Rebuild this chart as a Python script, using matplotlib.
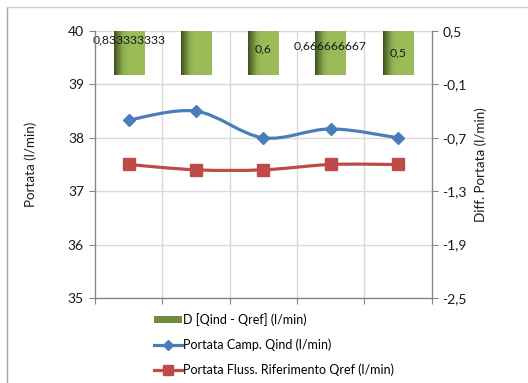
import numpy as np
import matplotlib
matplotlib.use("Agg")
import matplotlib.pyplot as plt
from matplotlib.path import Path
from matplotlib.patches import PathPatch, Patch
from matplotlib.lines import Line2D
from matplotlib.colors import LinearSegmentedColormap

plt.rcParams['font.family'] = ['Lato', 'DejaVu Sans']

# Data
q_ind = [38.333333333, 38.5, 38.0, 38.166666667, 38.0]      # Portata Camp. Qind
q_ref = [37.5, 37.4, 37.4, 37.5, 37.5]                      # Portata Fluss. Riferimento Qref
diff = [0.833333333, 1.1, 0.6, 0.666666667, 0.5]            # D [Qind - Qref]
left_ticks = [35, 36, 37, 38, 39, 40]
right_ticks = [-2.5, -1.9, -1.3, -0.7, -0.1, 0.5]

# label anchor heights on the secondary axis (None = label falls outside the plot)
label_y = [0.40, None, 0.30, 0.33, 0.25]

BLUE = '#4A7EBB'
RED = '#BE4B48'
GRID = '#D9D9D9'
SPINE = '#868686'
TXT = '#1a1a1a'

fig = plt.figure(figsize=(5.28, 3.83), dpi=100)
ax = fig.add_axes([95/528, 1-298/383, (431.5-95)/528, (298-31)/383])
ax2 = ax.twinx()

n = len(q_ind)
x = np.arange(n)


def fmt(v):
    s = f"{v:.9f}".rstrip('0').rstrip('.')
    return s.replace('.', ',')


# Bars with a horizontal shading on the secondary axis
cmap = LinearSegmentedColormap.from_list(
    'bar', [(0.0, '#3E4F1E'), (0.10, '#5D7430'), (0.30, '#8FAF52'), (0.45, '#9BBB59'), (1.0, '#9BBB59')])
grad = np.linspace(0, 1, 64).reshape(1, -1)
bw = 0.45
for i, v in enumerate(diff):
    ax2.imshow(grad, cmap=cmap, aspect='auto', extent=(i - bw/2, i + bw/2, 0, v),
               zorder=1, interpolation='bilinear')
    if label_y[i] is not None:
        ax2.text(i, label_y[i], fmt(v), ha='center', va='center', fontsize=8.8, color=TXT, zorder=5)


def smooth_path(xs, ys):
    verts = [(xs[0], ys[0])]
    codes = [Path.MOVETO]
    m = len(xs)
    for k in range(m - 1):
        p0 = (xs[max(k-1, 0)], ys[max(k-1, 0)])
        p1 = (xs[k], ys[k])
        p2 = (xs[k+1], ys[k+1])
        p3 = (xs[min(k+2, m-1)], ys[min(k+2, m-1)])
        c1 = (p1[0] + (p2[0]-p0[0])/6, p1[1] + (p2[1]-p0[1])/6)
        c2 = (p2[0] - (p3[0]-p1[0])/6, p2[1] - (p3[1]-p1[1])/6)
        verts += [c1, c2, p2]
        codes += [Path.CURVE4, Path.CURVE4, Path.CURVE4]
    return Path(verts, codes)


ax.set_zorder(ax2.get_zorder() + 1)
ax.patch.set_visible(False)

ax.add_patch(PathPatch(smooth_path(x, q_ind), fill=False, edgecolor=BLUE, lw=2.3, zorder=3))
ax.plot(x, q_ind, ls='none', marker='D', ms=6.5, color=BLUE, zorder=4)
ax.add_patch(PathPatch(smooth_path(x, q_ref), fill=False, edgecolor=RED, lw=2.3, zorder=3))
ax.plot(x, q_ref, ls='none', marker='s', ms=8.5, color=RED, zorder=4)

ax.set_xlim(-0.5, n - 0.5)
ax.set_ylim(35, 40)
ax2.set_ylim(-2.5, 0.5)
ax2.set_xlim(-0.5, n - 0.5)

ax.set_yticks(left_ticks)
ax.set_yticklabels([str(t) for t in left_ticks])
ax2.set_yticks(right_ticks)
ax2.set_yticklabels([f"{t:.1f}".replace('.', ',') for t in right_ticks])
ax.set_xticks(np.arange(-0.5, n, 1.0))
ax.set_xticklabels([])

# grid drawn on the secondary (lower) axes so it sits behind the bars
for t in right_ticks:
    ax2.axhline(t, color=GRID, lw=1, zorder=0)
for b in np.arange(0.5, n - 0.5, 1.0):
    ax2.axvline(b, color=GRID, lw=1, zorder=0)

for a in (ax, ax2):
    a.spines['top'].set_visible(False)
    for s in ('left', 'right', 'bottom'):
        a.spines[s].set_color(SPINE)
        a.spines[s].set_linewidth(1)
ax.spines['right'].set_visible(False)
ax2.spines['left'].set_visible(False)
ax2.spines['bottom'].set_visible(False)

ax.tick_params(axis='y', length=4, color=SPINE, labelsize=10, labelcolor=TXT, pad=4)
ax.tick_params(axis='x', length=4, color=SPINE, direction='out')
ax2.tick_params(axis='y', length=4, color=SPINE, labelsize=10, labelcolor=TXT, pad=4)

ax.set_ylabel('Portata (l/min)', fontsize=9.6, color=TXT, labelpad=22)
ax2.set_ylabel('Diff. Portata (l/min)', fontsize=9.6, color=TXT, labelpad=5)

# Legend
handles = [
    Patch(facecolor='#6F8C3B', edgecolor='none'),
    Line2D([], [], color=BLUE, lw=2.3, marker='D', ms=5.5),
    Line2D([], [], color=RED, lw=2.3, marker='s', ms=7.5),
]
labels = ['D [Qind - Qref] (l/min)', 'Portata Camp. Qind (l/min)',
          'Portata Fluss. Riferimento Qref (l/min)']
fig.legend(handles, labels, loc='upper left', bbox_to_anchor=(154/528, 1-313/383),
           frameon=False, fontsize=9.0, handlelength=2.2, handleheight=0.5,
           handletextpad=0.15, labelspacing=1.0, borderaxespad=0, borderpad=0)

# chart-area frame
fig.add_artist(Line2D([7/528, 7/528], [0, 1-7/383], transform=fig.transFigure, color='#A6A6A6', lw=1))
fig.add_artist(Line2D([7/528, 1], [1-7/383, 1-7/383], transform=fig.transFigure, color='#D0D0D0', lw=1))

fig.savefig('out.png', dpi=100)
